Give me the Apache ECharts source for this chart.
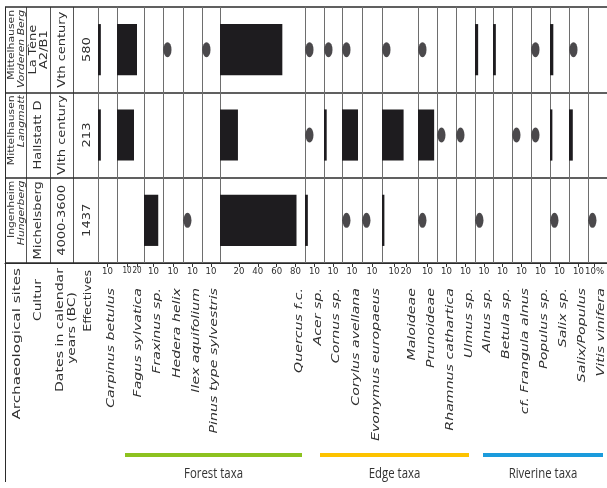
<!DOCTYPE html>
<html>
<head>
<meta charset="utf-8">
<script src="https://cdn.jsdelivr.net/npm/echarts@6/dist/echarts.min.js"></script>
<style>
  html, body { margin: 0; padding: 0; background: #fff; }
  #chart { width: 607px; height: 488px; }
</style>
</head>
<body>
<div id="chart"></div>
<script>
// ---- Sites (rows, top to bottom) ----
const siteNames = [['Mittelhausen', 'Vorderen Berg'], ['Mittelhausen', 'Langmatt'], ['Ingenheim', 'Hungerberg']];
const cultures = [['La Tène', 'A2/B1'], ['Hallstatt D'], ['Michelsberg']];
const periods = ['Vth century', 'VIth century', '4000-3600'];
const effectives = [580, 213, 1437];

// ---- Taxa (columns, left to right) ----
const taxa = [
  'Carpinus betulus', 'Fagus sylvatica', 'Fraxinus sp.', 'Hedera helix', 'Ilex aquifolium',
  'Pinus type sylvestris', 'Quercus f.c.', 'Acer sp.', 'Cornus sp.', 'Corylus avellana',
  'Evonymus europaeus', 'Maloideae', 'Prunoideae', 'Rhamnus cathartica', 'Ulmus sp.',
  'Alnus sp.', 'Betula sp.', 'cf. Frangula alnus', 'Populus sp.', 'Salix sp.',
  'Salix/Populus', 'Vitis vinifera'
];

// Percentages per site; PRESENT marks taxa found below 1 %
const PRESENT = '+';
const vorderenBerg = [3, 20, null, PRESENT, null, PRESENT, 66, PRESENT, PRESENT, PRESENT, null, PRESENT, PRESENT, null, null, 3.5, 3, null, PRESENT, 3.5, PRESENT, null];
const langmatt     = [3, 17, null, null, null, null, 19, PRESENT, 3, 16, null, 18, 17, PRESENT, PRESENT, null, null, PRESENT, PRESENT, 2.5, 4, null];
const hungerberg   = [null, null, 15, null, PRESENT, null, 81, 3, null, PRESENT, PRESENT, 2, PRESENT, null, null, PRESENT, null, null, null, PRESENT, null, PRESENT];

// Scale of each taxon column (percent at the right edge) and its labelled ticks
const scaleMax = [20, 27, 20, 20, 20, 20, 90, 20, 20, 20, 20, 30, 20, 20, 20, 20, 20, 20, 20, 20, 20, 20];
const tickValues = [[10], [10, 20], [10], [10], [10], [10], [20, 40, 60, 80], [10], [10], [10], [10], [10, 20], [10], [10], [10], [10], [10], [10], [10], [10], [10], [10]];

// Ecological groups
const groupNames = ['Forest taxa', 'Edge taxa', 'Riverine taxa'];
const groupColors = ['#8dc21f', '#fdc300', '#1b9bdc'];

// ---- Layout ----
const plotTop = 7, plotHeight = 256, plotBottom = plotTop + plotHeight;
const rowH = plotHeight / siteNames.length;
const leftEdge = 5;
const headerDividers = [26, 50, 73];
const firstColX = 98;
const colWidth = [19, 27, 19, 20, 19, 18, 85, 19, 18, 20, 20, 36, 19, 19, 19, 18, 19, 19, 19, 19, 19, 19];
const groupSpan = [[125, 302], [320, 469], [483, 603]];
const ink = '#1e1c1f';
const textColor = '#2e2e2e';
const sans = "'DejaVu Sans', Verdana, sans-serif";
const narrow = "'Liberation Sans Narrow', 'DejaVu Sans Condensed', 'Liberation Sans', sans-serif";

const siteRows = [vorderenBerg, langmatt, hungerberg];
const siteKeys = siteNames.map(n => n.join(' '));

const chart = echarts.init(document.getElementById('chart'), null, { renderer: 'canvas' });

const grids = [], xAxes = [], yAxes = [], series = [];

// Frame: row separators and the bottom axis line across the whole table
grids.push({ left: leftEdge, top: plotTop, width: 607 - leftEdge, height: plotHeight });
xAxes.push({
  gridIndex: 0, type: 'value', min: 0, max: 1,
  axisLine: { show: true, onZero: false, lineStyle: { color: '#2b2b2b', width: 1.2 } },
  axisTick: { show: false }, axisLabel: { show: false }, splitLine: { show: false }
});
yAxes.push({
  gridIndex: 0, type: 'category', inverse: true, data: siteKeys,
  axisLine: { show: false }, axisTick: { show: false }, axisLabel: { show: false },
  splitLine: { show: true, lineStyle: { color: '#2b2b2b', width: 1.5 } }
});

// One small grid per taxon column
let colX = firstColX;
const colRight = [];
taxa.forEach((name, i) => {
  const g = grids.length;
  grids.push({ left: colX, top: plotTop, width: colWidth[i], height: plotHeight });
  colX += colWidth[i];
  colRight.push(colX);
  const last = i === taxa.length - 1;
  // tighter tick labels where neighbouring ticks sit close together
  const ticks = tickValues[i];
  const pxPerUnit = colWidth[i] / scaleMax[i];
  const gap = ticks.length > 1 ? (ticks[1] - ticks[0]) * pxPerUnit : Infinity;
  const labelSize = gap < 11 ? 8 : 9.5;
  xAxes.push({
    gridIndex: g, type: 'value', min: 0, max: scaleMax[i],
    axisLine: { show: false },
    axisTick: { show: true, customValues: ticks, length: 4, lineStyle: { color: '#333', width: 1 } },
    axisLabel: {
      show: true, customValues: ticks, margin: 4,
      showMinLabel: true, showMaxLabel: true, hideOverlap: false,
      fontSize: labelSize, fontFamily: narrow, color: textColor,
      formatter: last ? '{value}%' : '{value}'
    },
    splitLine: { show: false }
  });
  yAxes.push({
    gridIndex: g, type: 'category', inverse: true, data: siteKeys,
    axisLine: { show: true, lineStyle: { color: '#6e6e6e', width: 1 } },
    axisTick: { show: false }, axisLabel: { show: false }, splitLine: { show: false }
  });
  series.push({
    type: 'bar', name: name, xAxisIndex: g, yAxisIndex: g,
    data: siteRows.map(r => (typeof r[i] === 'number' ? r[i] : '-')),
    barWidth: '60%', itemStyle: { color: ink }, silent: true
  });
  series.push({
    type: 'scatter', name: name, xAxisIndex: g, yAxisIndex: g,
    data: siteRows.map((r, s) => (r[i] === PRESENT ? [0, s] : null)).filter(Boolean),
    symbol: 'circle', symbolSize: [8, 15], symbolOffset: [4.5, 0],
    itemStyle: { color: ink }, clip: false, silent: true
  });
});

// Vertical (bottom-to-top) text helper
function vText(text, x, y, o) {
  return {
    type: 'text', x: x, y: y, rotation: Math.PI / 2,
    scaleX: o.stretch || 1.3, silent: true,
    style: {
      text: text, fill: textColor,
      fontSize: o.size || 10, fontFamily: o.family || sans,
      fontStyle: o.italic ? 'italic' : 'normal',
      align: o.align || 'center', verticalAlign: 'middle'
    }
  };
}

const graphics = [];

// Table frame lines on the left
graphics.push({ type: 'line', silent: true, shape: { x1: leftEdge + 0.5, y1: plotTop, x2: leftEdge + 0.5, y2: 482 }, style: { stroke: '#2b2b2b', lineWidth: 1 } });
headerDividers.forEach(x => {
  graphics.push({ type: 'line', silent: true, shape: { x1: x + 0.5, y1: plotTop, x2: x + 0.5, y2: plotBottom }, style: { stroke: '#555', lineWidth: 1 } });
});

// Row header cells
siteNames.forEach((lines, s) => {
  const top = plotTop + s * rowH;
  const mid = top + rowH / 2;
  graphics.push(vText(lines[0], 11.5, top + 3, { size: 9, stretch: 1.2, align: 'right' }));
  graphics.push(vText(lines[1], 21.5, top + 3, { size: 9, stretch: 1.2, align: 'right', italic: true }));
  const c = cultures[s];
  if (c.length === 2) {
    graphics.push(vText(c[0], 33.5, mid, {}));
    graphics.push(vText(c[1], 44.5, mid, {}));
  } else {
    graphics.push(vText(c[0], 38.5, mid, {}));
  }
  graphics.push(vText(periods[s], 62, mid, {}));
  graphics.push(vText(String(effectives[s]), 87, mid, {}));
});

// Column titles below the axis
graphics.push(vText('Archaeological sites', 17, 268, { align: 'right', size: 11, stretch: 1.38 }));
graphics.push(vText('Cultur', 38, 300, { size: 11, stretch: 1.25 }));
graphics.push(vText('Dates in calendar', 60.5, 268, { align: 'right', size: 11, stretch: 1.28 }));
graphics.push(vText('years (BC)', 72.5, 328, { size: 11, stretch: 1.25 }));
graphics.push(vText('Effectives', 88, 270, { align: 'right', size: 11, stretch: 1.15 }));

taxa.forEach((name, i) => {
  graphics.push(vText(name, colRight[i] - 6, 288, { align: 'right', italic: true, size: 10.5, stretch: 1.35 }));
});

// Group brackets
groupNames.forEach((g, k) => {
  const [a, b] = groupSpan[k];
  graphics.push({ type: 'line', silent: true, shape: { x1: a, y1: 455, x2: b, y2: 455 }, style: { stroke: groupColors[k], lineWidth: 4 } });
  graphics.push({
    type: 'text', x: (a + b) / 2, y: 474, scaleX: 0.76, silent: true,
    style: { text: g, fill: '#333', fontSize: 15, fontFamily: "'Open Sans', 'Noto Sans', sans-serif", align: 'center', verticalAlign: 'middle' }
  });
});

chart.setOption({
  animation: false,
  backgroundColor: '#fff',
  grid: grids,
  xAxis: xAxes,
  yAxis: yAxes,
  series: series,
  graphic: { elements: graphics }
});
</script>
</body>
</html>
